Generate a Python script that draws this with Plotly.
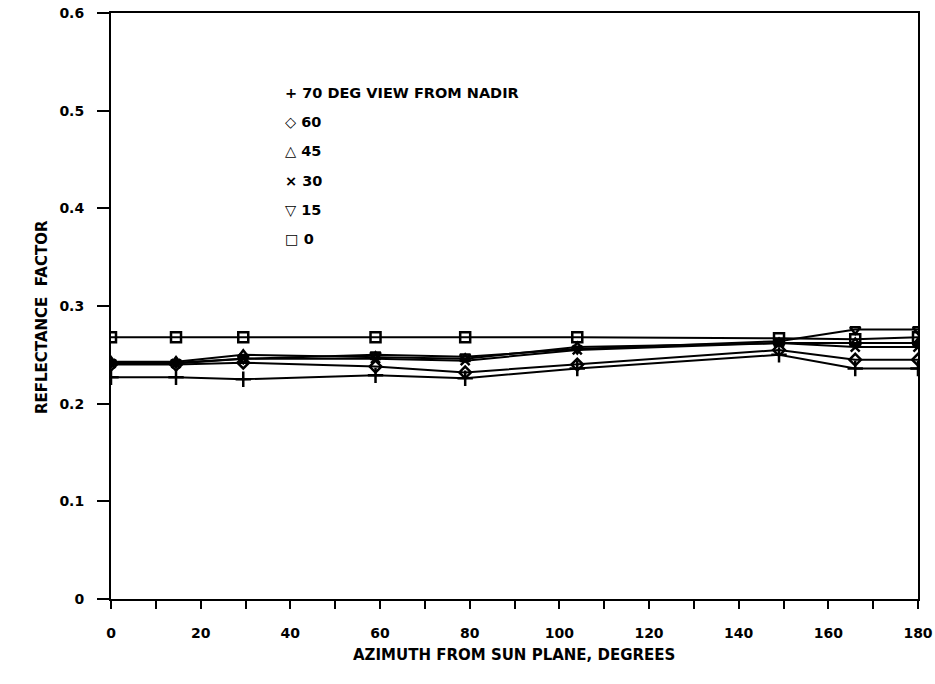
import plotly.graph_objects as go

# Azimuth angles (degrees from the solar principal plane)
azimuth = [0, 14.5, 29.5, 59, 79, 104, 149, 166, 180]

# Reflectance factor for each view zenith angle
view_70 = [0.227, 0.227, 0.225, 0.229, 0.226, 0.236, 0.250, 0.236, 0.236]
view_60 = [0.240, 0.240, 0.242, 0.238, 0.232, 0.240, 0.255, 0.245, 0.245]
view_45 = [0.243, 0.243, 0.250, 0.248, 0.246, 0.258, 0.262, 0.262, 0.262]
view_30 = [0.241, 0.241, 0.246, 0.246, 0.244, 0.255, 0.262, 0.258, 0.258]
view_15 = [0.242, 0.242, 0.246, 0.250, 0.248, 0.256, 0.264, 0.276, 0.276]
view_0 = [0.268, 0.268, 0.268, 0.268, 0.268, 0.268, 0.267, 0.266, 0.268]

series_labels = ["70 DEG VIEW FROM NADIR", "60", "45", "30", "15", "0"]
legend_glyphs = ["+", "\u25c7", "\u25b3", "\u00d7", "\u25bd", "\u25a1"]

y_ticks = [0, 0.1, 0.2, 0.3, 0.4, 0.5, 0.6]
y_tick_text = ["0", "0.1", "0.2", "0.3", "0.4", "0.5", "0.6"]

FONT = "DejaVu Sans"
INK = "black"

styles = [
    dict(symbol="cross-thin", size=11),
    dict(symbol="diamond-open", size=9),
    dict(symbol="triangle-up-open", size=9),
    dict(symbol="x-thin", size=9),
    dict(symbol="triangle-down-open", size=9),
    dict(symbol="square-open", size=10),
]

fig = go.Figure()
for values, st in zip([view_70, view_60, view_45, view_30, view_15, view_0], styles):
    fig.add_trace(go.Scatter(
        x=azimuth, y=values, mode="lines+markers",
        line=dict(color=INK, width=2),
        marker=dict(symbol=st["symbol"], size=st["size"], color=INK,
                    line=dict(color=INK, width=2.5)),
        showlegend=False,
    ))

# Plot-area geometry in pixels, used to place the text key
L, R, T, B = 111, 918, 13, 599
W, H = R - L, B - T

def px(xp):
    return (xp - L) / W

def py(yp):
    return (B - yp) / H

rows_y = [93, 122, 151, 181, 210, 239]
for glyph, label, yy in zip(legend_glyphs, series_labels, rows_y):
    fig.add_annotation(
        x=px(283), y=py(yy), xref="paper", yref="paper",
        xanchor="left", yanchor="middle", showarrow=False,
        text=glyph + " " + label,
        font=dict(family=FONT, size=14.5, color=INK, weight="bold"),
    )

fig.add_annotation(
    x=px(42), y=py(317), xref="paper", yref="paper",
    text="REFLECTANCE  FACTOR", textangle=-90, showarrow=False,
    xanchor="center", yanchor="middle",
    font=dict(family=FONT, size=15, color=INK, weight="bold"),
)
fig.add_annotation(
    x=px(514), y=py(655), xref="paper", yref="paper",
    text="AZIMUTH FROM SUN PLANE, DEGREES", showarrow=False,
    xanchor="center", yanchor="middle",
    font=dict(family=FONT, size=15, color=INK, weight="bold"),
)

fig.update_layout(
    width=935, height=684,
    margin=dict(l=L, r=935 - R, t=T, b=684 - B, autoexpand=False),
    paper_bgcolor="white", plot_bgcolor="white",
    font=dict(family=FONT, size=14, color=INK, weight="bold"),
    xaxis=dict(
        range=[0, 180], tick0=0, dtick=20, ticks="outside", ticklen=8,
        tickwidth=2, tickcolor=INK, automargin=False, ticklabelstandoff=12,
        minor=dict(dtick=10, ticks="outside", ticklen=8, tickwidth=2, tickcolor=INK),
        showline=True, linecolor=INK, linewidth=2, mirror=True,
        showgrid=False, zeroline=False,
        tickfont=dict(family=FONT, size=14, color=INK, weight="bold"),
    ),
    yaxis=dict(
        range=[0, 0.6], tickvals=y_ticks, ticktext=y_tick_text,
        ticks="outside", ticklen=12, tickwidth=2, tickcolor=INK,
        automargin=False, ticklabelstandoff=10,
        showline=True, linecolor=INK, linewidth=2, mirror=True,
        showgrid=False, zeroline=False,
        tickfont=dict(family=FONT, size=14, color=INK, weight="bold"),
    ),
)

fig.write_html("out.html")
